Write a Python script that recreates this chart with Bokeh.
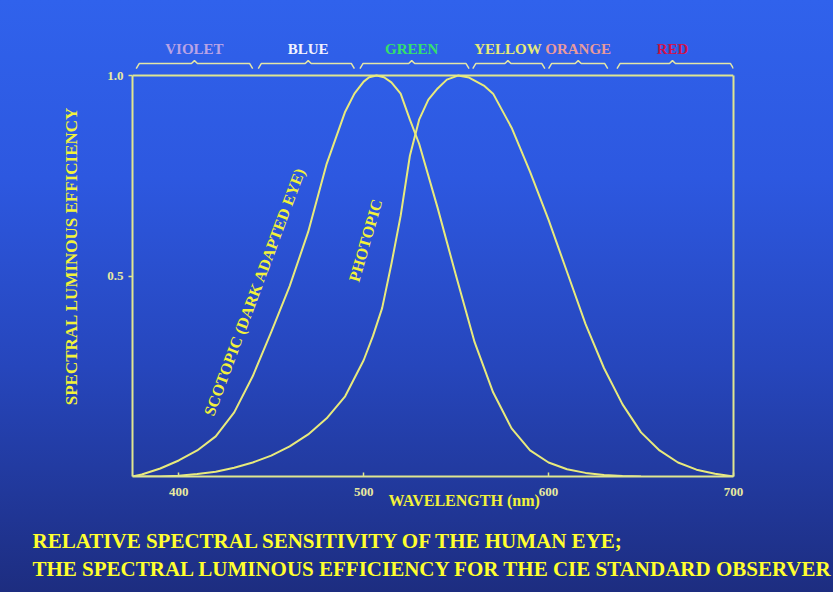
from bokeh.plotting import figure
from bokeh.models import Range1d, LinearAxis, FixedTicker, Label, Title, PrintfTickFormatter
from bokeh.embed import file_html
from bokeh.resources import INLINE

# ---------------- data ----------------
wavelength_scotopic = [375, 380, 390, 400, 410, 420, 430, 440, 450, 460, 470, 480, 490, 495, 500,
                       503, 507, 511, 515, 520, 525, 530, 540, 550, 560, 570, 580, 590, 600, 610,
                       620, 630, 640, 650]
scotopic = [0.0, 0.005, 0.02, 0.04, 0.065, 0.10, 0.16, 0.25, 0.36, 0.475, 0.61, 0.78, 0.91, 0.955,
            0.985, 0.996, 1.0, 0.996, 0.983, 0.955, 0.89, 0.83, 0.67, 0.50, 0.335, 0.21, 0.12,
            0.065, 0.035, 0.018, 0.009, 0.004, 0.001, 0.0]

wavelength_photopic = [375, 390, 400, 410, 420, 430, 440, 450, 460, 470, 480, 490, 500, 505, 510,
                       515, 520, 525, 530, 535, 540, 545, 551, 557, 565, 570, 580, 590, 600, 610,
                       620, 630, 640, 650, 660, 670, 680, 690, 700]
photopic = [0.0, 0.0, 0.002, 0.006, 0.012, 0.022, 0.035, 0.052, 0.075, 0.105, 0.145, 0.20, 0.29,
            0.35, 0.42, 0.53, 0.65, 0.80, 0.89, 0.94, 0.968, 0.99, 1.0, 0.995, 0.975, 0.955, 0.87,
            0.76, 0.64, 0.51, 0.38, 0.27, 0.18, 0.11, 0.065, 0.035, 0.017, 0.007, 0.0]

band_names = ["VIOLET", "BLUE", "GREEN", "YELLOW", "ORANGE", "RED"]
band_start = [377, 443, 498, 559, 600, 637]
band_end = [440, 495, 557, 598, 632, 700]
band_mid = [408.5, 470, 526, 578, 616, 667]
band_colors = ["#b9a3e6", "#f2f2ff", "#35e06a", "#e6ea78", "#e89a9c", "#d0124a"]

x_ticks = [400, 500, 600, 700]
y_ticks = [0.5, 1.0]

x_title = "WAVELENGTH (nm)"
y_title = "SPECTRAL LUMINOUS EFFICIENCY"
caption_1 = "RELATIVE SPECTRAL SENSITIVITY OF THE HUMAN EYE;"
caption_2 = "THE SPECTRAL LUMINOUS EFFICIENCY FOR THE CIE STANDARD OBSERVER"

CURVE = "#e8ea7c"
FRAME = "#dfe690"
TEXT_Y = "#f2f23a"
FONT = "Liberation Serif"

p = figure(x_range=Range1d(375, 700), y_range=Range1d(0, 1.1),
           frame_width=601, frame_height=441,
           min_border_left=132, min_border_right=100, min_border_top=35, min_border_bottom=116,
           output_backend="svg", toolbar_location=None, x_axis_location=None, y_axis_location=None)
p.background_fill_color = None
p.border_fill_color = None
p.outline_line_color = None
p.xgrid.visible = False
p.ygrid.visible = False
p.styles = {"background": "linear-gradient(180deg, #3062ec 0%, #2d58e0 30%, #2646bc 62%, #1d2d80 100%)"}

# axes
xax = LinearAxis(ticker=FixedTicker(ticks=x_ticks), bounds=(375, 700))
xax.axis_line_color = FRAME
xax.axis_line_width = 2
xax.major_tick_line_color = FRAME
xax.major_tick_line_width = 1.5
xax.major_tick_in = 4
xax.major_tick_out = 0
xax.minor_tick_line_color = None
xax.major_label_text_color = "#e8eaa0"
xax.major_label_text_font = FONT
xax.major_label_text_font_style = "bold"
xax.major_label_text_font_size = "13px"
xax.major_label_standoff = 11
p.add_layout(xax, "below")

yax = LinearAxis(ticker=FixedTicker(ticks=y_ticks), bounds=(0, 1),
                 formatter=PrintfTickFormatter(format="%.1f"))
yax.axis_line_color = FRAME
yax.axis_line_width = 2
yax.major_tick_line_color = FRAME
yax.major_tick_line_width = 1.5
yax.major_tick_in = 0
yax.major_tick_out = 4
yax.minor_tick_line_color = None
yax.major_label_text_color = "#e8eaa0"
yax.major_label_text_font = FONT
yax.major_label_text_font_style = "bold"
yax.major_label_text_font_size = "13px"
yax.major_label_standoff = 5
yax.major_label_orientation = "horizontal"
yax.axis_label = y_title
yax.axis_label_text_color = TEXT_Y
yax.axis_label_text_font = FONT
yax.axis_label_text_font_style = "bold"
yax.axis_label_text_font_size = "17px"
yax.axis_label_standoff = 23
p.add_layout(yax, "left")

rax = LinearAxis(ticker=FixedTicker(ticks=[]), bounds=(0, 1))
rax.axis_line_color = FRAME
rax.axis_line_width = 2
rax.major_tick_line_color = None
rax.minor_tick_line_color = None
rax.major_label_text_font_size = "0px"
p.add_layout(rax, "right")

# x title, spacer and captions as panels below
p.add_layout(Title(text=x_title, align="left", offset=256, vertical_align="top", standoff=-14,
                   text_color=TEXT_Y, text_font=FONT, text_font_style="bold", text_font_size="16px"),
             "below")
# unlabeled, practically invisible axis used only to reserve vertical space
spacer = LinearAxis(ticker=FixedTicker(ticks=[375]), major_label_overrides={375: ""},
                    axis_line_color=None, major_tick_line_color="#2a50d0", major_tick_line_alpha=0.02,
                    minor_tick_line_color=None, major_tick_in=0, major_tick_out=25,
                    major_label_standoff=0, major_label_text_font_size="1px")
p.add_layout(spacer, "below")
p.add_layout(Title(text=caption_1, align="left", offset=-100, vertical_align="top", standoff=0,
                   text_color="#ffff2e", text_font=FONT, text_font_style="bold", text_font_size="21px"),
             "below")
p.add_layout(Title(text=caption_2, align="left", offset=-100, vertical_align="top", standoff=4,
                   text_color="#ffff2e", text_font=FONT, text_font_style="bold", text_font_size="21px"),
             "below")

# top edge of box
p.line(x=[375, 700], y=[1.0, 1.0], line_color=FRAME, line_width=2)

# curves
p.line(x=wavelength_scotopic, y=scotopic, line_color=CURVE, line_width=2, line_join="round")
p.line(x=wavelength_photopic, y=photopic, line_color=CURVE, line_width=2, line_join="round")

# braces above the box
px = 601 / 325.0
d = 3 / px
y_end, y_h, y_pk = 1.0175, 1.030, 1.0374
for s, e, m in zip(band_start, band_end, band_mid):
    p.line(x=[s, s + d, m - d, m, m + d, e - d, e],
           y=[y_end, y_h, y_h, y_pk, y_h, y_h, y_end],
           line_color="#e4e6a6", line_width=1.5)
p.text(x=band_mid, y=[1.067] * len(band_mid), text=band_names, text_color=band_colors,
       text_font={"value": FONT}, text_font_style="bold", text_font_size="15px",
       text_align="center", text_baseline="middle")

# curve labels
p.add_layout(Label(x=441, y=0.461, text="SCOTOPIC (DARK ADAPTED EYE)", angle=1.215,
                   text_color=TEXT_Y, text_font=FONT, text_font_style="bold", text_font_size="16px",
                   text_align="center", text_baseline="middle"))
p.add_layout(Label(x=501, y=0.589, text="PHOTOPIC", angle=1.29,
                   text_color=TEXT_Y, text_font=FONT, text_font_style="bold", text_font_size="16px",
                   text_align="center", text_baseline="middle"))

open("out.html", "w").write(file_html(p, INLINE))
